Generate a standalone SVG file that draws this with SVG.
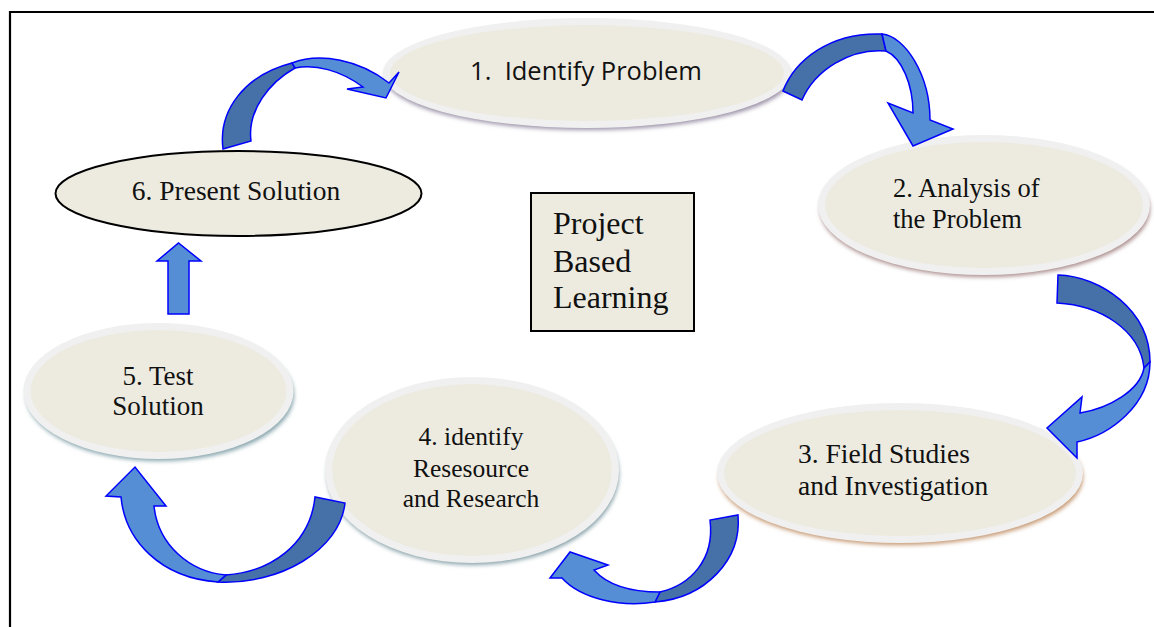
<svg xmlns="http://www.w3.org/2000/svg" width="1154" height="627" viewBox="0 0 1154 627">
<defs>
<filter id="sh" x="-10%" y="-20%" width="120%" height="140%"><feGaussianBlur stdDeviation="2"/></filter>
<style>
.rim{fill:#F0F0F0}
.fill{fill:#EDEBE0}
.sh{filter:url(#sh)}
.serif{font-family:"Liberation Serif","Times New Roman",serif;fill:#111}
.sans{font-family:"Open Sans","Liberation Sans",sans-serif;fill:#111}
.dark{fill:#4571A8;stroke:#0000FF;stroke-width:1.5;stroke-linejoin:miter}
.light{fill:#558ED5;stroke:#0000FF;stroke-width:1.5;stroke-linejoin:miter}
</style>
</defs>
<rect width="1154" height="627" fill="#FFFFFF"/>
<path d="M10,627 V12 H1154" fill="none" stroke="#000" stroke-width="2.2"/>

<g id="node1">
<ellipse class="sh" cx="588" cy="77" rx="203" ry="53" fill="#9C93A8"/>
<ellipse class="rim" cx="587" cy="73" rx="204" ry="55"/>
<ellipse class="fill" cx="587" cy="73" rx="197" ry="48"/>
<text class="sans" x="586" y="80" font-size="25.5" text-anchor="middle" xml:space="preserve">1.  Identify Problem</text>
</g>

<g id="node2">
<ellipse class="sh" cx="985" cy="209" rx="165" ry="68" fill="#A98A8A"/>
<ellipse class="rim" cx="984" cy="205" rx="166" ry="70"/>
<ellipse class="fill" cx="984" cy="205" rx="159" ry="63"/>
<text class="serif" x="893" y="197" font-size="26.5">2. Analysis of</text>
<text class="serif" x="893" y="228" font-size="26.5">the Problem</text>
</g>

<g id="node3">
<ellipse class="sh" cx="901" cy="477" rx="182" ry="68" fill="#C4966F"/>
<ellipse class="rim" cx="900" cy="473" rx="183" ry="70"/>
<ellipse class="fill" cx="900" cy="473" rx="176" ry="63"/>
<text class="serif" x="798" y="463" font-size="27.5">3. Field Studies</text>
<text class="serif" x="798" y="495" font-size="27.5">and Investigation</text>
</g>

<g id="node4">
<ellipse class="sh" cx="473" cy="474" rx="146" ry="91" fill="#86A0A8"/>
<ellipse class="rim" cx="472" cy="470" rx="147" ry="93"/>
<ellipse class="fill" cx="472" cy="470" rx="140" ry="86"/>
<text class="serif" x="471" y="445" font-size="25.5" text-anchor="middle">4. identify</text>
<text class="serif" x="471" y="477" font-size="25.5" text-anchor="middle">Resesource</text>
<text class="serif" x="471" y="507" font-size="25.5" text-anchor="middle">and Research</text>
</g>

<g id="node5">
<ellipse class="sh" cx="160" cy="395" rx="134" ry="66" fill="#86A4AC"/>
<ellipse class="rim" cx="158.5" cy="391" rx="135" ry="68"/>
<ellipse class="fill" cx="158.5" cy="391" rx="128" ry="61"/>
<text class="serif" x="158" y="385" font-size="27" text-anchor="middle">5. Test</text>
<text class="serif" x="158" y="415" font-size="27" text-anchor="middle">Solution</text>
</g>

<g id="node6">
<ellipse cx="238.5" cy="193.5" rx="183" ry="42.5" fill="#EDEBE0" stroke="#000" stroke-width="2"/>
<text class="serif" x="236" y="200" font-size="27.5" text-anchor="middle">6. Present Solution</text>
</g>

<g id="center">
<rect x="531" y="193" width="163" height="138" fill="#EDEBE0" stroke="#000" stroke-width="2"/>
<text class="serif" x="553" y="234" font-size="32">Project</text>
<text class="serif" x="553" y="272" font-size="32">Based</text>
<text class="serif" x="553" y="308" font-size="32">Learning</text>
</g>

<g id="connectors">
<!-- 6 -> 1 -->
<path class="dark" d="M223,149 C218,110 245,75 292,63 L295,68 C270,82 247,110 251,141 Z"/>
<path class="light" d="M292,63 C320,52 360,60 389,83 L399,72 L386,98 L347,89 L363,87 C340,70 315,64 295,68 Z"/>
<!-- 1 -> 2 -->
<path class="dark" d="M783,91 C795,60 830,32 882,34 L886,51 C850,48 815,70 802,100 Z"/>
<path class="light" d="M882,34 C905,36 930,75 930,120 L953,129 L913,146 L888,103 L913,113 C913,85 902,58 886,51 Z"/>
<!-- 2 -> 3 -->
<path class="dark" d="M1058,275 C1100,276 1150,310 1150,362 L1144,368 C1140,330 1100,305 1057,303 Z"/>
<path class="light" d="M1150,362 C1150,405 1110,435 1077,442 L1077,458 L1047,428 L1082,397 L1080,413 C1110,408 1140,390 1144,368 Z"/>
<!-- 3 -> 4 -->
<path class="dark" d="M738,515 C742,560 705,598 655,602 L660,592 C690,585 715,560 710,520 Z"/>
<path class="light" d="M655,602 C620,608 580,598 562,578 L550,578 L570,552 L608,565 L594,570 C610,588 635,592 660,592 Z"/>
<!-- 4 -> 5 -->
<path class="dark" d="M345,503 C340,550 280,585 218,582 L226,575 C270,572 310,545 315,497 Z"/>
<path class="light" d="M218,582 C160,578 125,540 121,497 L106,496 L135,467 L166,506 L154,506 C158,545 190,572 226,575 Z"/>
<!-- 5 -> 6 -->
<path class="light" d="M168,314 V261 H157 L178.5,243 L201,261 H189 V314 Z"/>
</g>
</svg>
